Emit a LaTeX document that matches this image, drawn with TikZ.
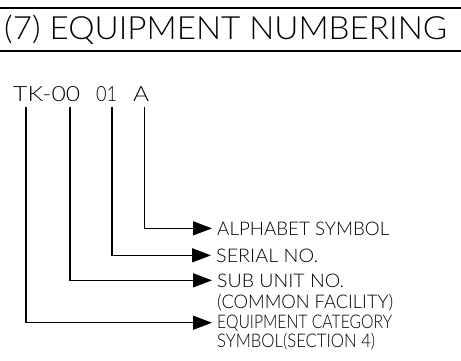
\documentclass[tikz,border=0pt]{standalone}
\usepackage{fontspec}
\setmainfont{Lato Light}
\usetikzlibrary{arrows.meta,positioning}
\tikzstyle{arrow} = [line width=1.5pt,-{Triangle[length=19pt,width=14pt]}]
\tikzstyle{lbl} = [anchor=base west,inner xsep=5pt,inner ysep=0pt,font=\fontsize{18.8}{20}\selectfont]
\tikzstyle{num} = [anchor=base west,inner sep=0pt,font=\fontsize{21}{21}\selectfont]
\newcommand{\fitw}[2]{\resizebox{#1}{\height}{#2}}

\begin{document}
\begin{tikzpicture}[x=1pt,y=-1pt]
\useasboundingbox (0,0) rectangle (461,361);
% title bar
\draw[line width=1.6pt] (0,8) -- (461,8);
\draw[line width=1.6pt] (0,51) -- (461,51);
\node[anchor=base west,inner sep=0pt,font=\fontsize{32}{32}\selectfont] (title) at (4,40) {\fitw{443pt}{(7) EQUIPMENT\ NUMBERING}};

% the number
\node[num] (tk) at (13,102) {\fitw{67pt}{TK-00}};
\node[num] (sn) at (96,102) {\fitw{21pt}{01}};
\node[num] (al) at (133,102) {\fitw{16pt}{A}};
\coordinate (cat) at (26,107);
\coordinate (sub) at (70,107);
\coordinate (ser) at (112,107);
\coordinate (alp) at (144,107);

% meanings
\node[lbl] (alpha) at (212,235) {\fitw{172pt}{ALPHABET SYMBOL}};
\node[lbl] (serial) at (211,262) {\fitw{102pt}{SERIAL NO.}};
\node[lbl] (subunit) at (212,287) {\fitw{127pt}{SUB UNIT NO.}};
\node[lbl] (common) at ([yshift=-21pt]subunit.base west) {\fitw{176pt}{(COMMON FACILITY)}};
\node[lbl] (equip) at (212,328) {\fitw{175pt}{EQUIPMENT CATEGORY}};
\node[lbl] (section) at ([yshift=-19pt]equip.base west) {\fitw{158pt}{SYMBOL(SECTION 4)}};

\draw [arrow, line width=1pt] (alp) |- (alpha.west);
\draw [arrow] (ser) |- (serial.west);
\draw [arrow] (sub) |- (subunit.west);
\draw [arrow] (cat) |- (equip.west);
\end{tikzpicture}
\end{document}
